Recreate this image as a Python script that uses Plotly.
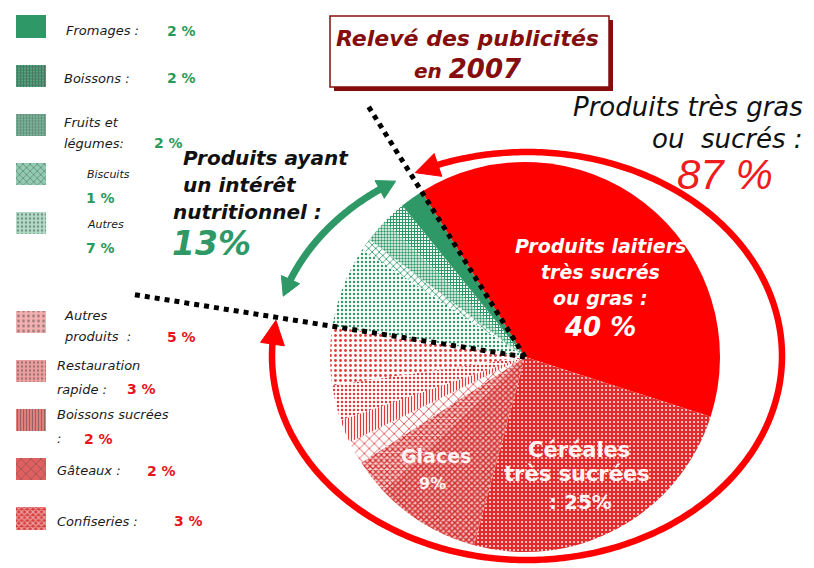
import numpy as np
import plotly.graph_objects as go

# page body has an 8px margin: the figure is sized so that it fills the 814x568 window
OFF = 8
W, H = 814 - OFF, 568 - OFF

# ---------------- data ----------------
categories = ["Produits laitiers", "Céréales", "Glaces", "Confiseries", "Gâteaux",
              "Boissons sucrées", "Restauration rapide", "Autres produits",
              "Autres", "Biscuits", "Fruits et légumes", "Boissons", "Fromages"]
values = [40, 25, 9, 3, 2, 2, 3, 5, 7, 1, 2, 2, 2]
groups = ["gras"] * 8 + ["nutri"] * 5
headline_groups = ["gras", "nutri"]
headline_values = [87, 13]
title_year = 2007

# legend rows, top to bottom ("gap" = spacer row)
legend_rows = ["Fromages", "Boissons", "Fruits et légumes", "Biscuits", "Autres", "gap",
               "Autres produits", "Restauration rapide", "Boissons sucrées", "Gâteaux", "Confiseries"]

# ---------------- styles ----------------
RED = "#ff0000"
GREEN = "#2e9966"
WHITE = "#ffffff"
DARKRED = "#860d0d"
FONT = "Liberation Sans, Arial, sans-serif"
FONT_W = "DejaVu Sans, Liberation Sans, sans-serif"

style = {
    "Produits laitiers": dict(color=RED, shape="", fg=RED, bg=RED, size=8, sol=0.3),
    "Céréales": dict(color="#e42a2a", shape=".", fg="#fbe3e3", bg="#e42a2a", size=4, sol=0.22),
    "Glaces": dict(color="#d84040", shape="x", fg="#d42a2a", bg="#eeb8b8", size=4, sol=0.6),
    "Confiseries": dict(color="#d84040", shape="x", fg="#d22a2a", bg="#f6d0d0", size=4, sol=0.5),
    "Gâteaux": dict(color="#e06060", shape="x", fg="#d83030", bg=WHITE, size=7, sol=0.2),
    "Boissons sucrées": dict(color="#e88080", shape="|", fg="#e03a3a", bg=WHITE, size=3, sol=0.4),
    "Restauration rapide": dict(color="#f0a0a0", shape=".", fg="#e03a3a", bg=WHITE, size=4, sol=0.3),
    "Autres produits": dict(color="#f4b0b0", shape=".", fg="#e03a3a", bg=WHITE, size=5, sol=0.25),
    "Autres": dict(color="#b0dcc8", shape=".", fg=GREEN, bg=WHITE, size=4, sol=0.3),
    "Biscuits": dict(color="#90ccb0", shape="x", fg=GREEN, bg=WHITE, size=5, sol=0.3),
    "Fruits et légumes": dict(color="#80c4a4", shape=".", fg=GREEN, bg=WHITE, size=3, sol=0.5),
    "Boissons": dict(color="#50aa80", shape="+", fg=GREEN, bg=WHITE, size=3, sol=0.6),
    "Fromages": dict(color=GREEN, shape="", fg=GREEN, bg=GREEN, size=8, sol=0.3),
}

def pattern_for(names):
    return dict(shape=[style[n]["shape"] for n in names],
                fgcolor=[style[n]["fg"] for n in names],
                bgcolor=[style[n]["bg"] for n in names],
                size=[style[n]["size"] for n in names],
                solidity=[style[n]["sol"] for n in names])

# ---------------- geometry (window pixel frame) ----------------
def fx(x):
    return (x - OFF) / W

def fy(y):
    return 1 - (y - OFF) / H

ROT = -32
CX, CY, R = 525, 357, 195
EX, EY, RX, RY = 527, 356, 255, 204   # decorative arrow ring

total = sum(values)
gras_sum = sum(v for v, g in zip(values, groups) if g == "gras")
a_top = ROT                              # clockwise from 12 o'clock
a_left = ROT + 360.0 * gras_sum / total

fig = go.Figure()

fig.add_trace(go.Pie(
    labels=categories, values=values, sort=False, direction="clockwise", rotation=ROT,
    domain=dict(x=[fx(CX - R), fx(CX + R)], y=[fy(CY + R), fy(CY - R)]),
    textinfo="none", hoverinfo="label+value", showlegend=False,
    marker=dict(colors=[style[n]["color"] for n in categories], line=dict(width=0),
                pattern=pattern_for(categories)),
))

# legend swatches
leg_items = [r for r in legend_rows if r != "gap"]
fig.add_trace(go.Bar(
    y=leg_items, x=[1] * len(leg_items), orientation="h", width=0.45,
    marker=dict(color=[style[n]["color"] for n in leg_items], line=dict(width=0),
                pattern=pattern_for(leg_items)),
    hoverinfo="skip", showlegend=False, xaxis="x", yaxis="y",
))

S = (518 - 26) / 10.0           # row pitch
top_px = 26 - S / 2             # top of first row
bot_px = 518 + S / 2            # bottom of last row
dom_top = max(top_px, OFF + 0.5)
range_top = -0.5 + (dom_top - top_px) / S
fig.update_layout(
    xaxis=dict(domain=[fx(16), fx(46)], range=[0, 1], visible=False, fixedrange=True),
    yaxis=dict(domain=[fy(bot_px), fy(dom_top)], type="category",
               categoryorder="array", categoryarray=legend_rows,
               range=[len(legend_rows) - 0.5, range_top], visible=False, fixedrange=True),
)

def slot_y(name):
    return top_px + (legend_rows.index(name) + 0.5) * S

# ---------------- helpers ----------------
def path_str(pts, close=False):
    s = "M " + " L ".join(f"{fx(x):.5f},{fy(y):.5f}" for x, y in pts)
    return s + (" Z" if close else "")

def ell(ts):
    t = np.radians(np.asarray(ts, dtype=float))
    return np.c_[EX + RX * np.sin(t), EY - RY * np.cos(t)]

def arrow_arc(t0, t1, color, width, L, Wd):
    pts = ell(np.linspace(t0, t1, 400))
    tip0, tip1 = pts[0], pts[-1]
    i0 = next(i for i, p in enumerate(pts) if np.hypot(*(p - tip0)) >= L)
    i1 = next(i for i in range(len(pts) - 1, -1, -1) if np.hypot(*(pts[i] - tip1)) >= L)
    shaft = pts[max(i0 - 2, 0):i1 + 3]
    fig.add_shape(type="path", path=path_str(shaft), xref="paper", yref="paper",
                  line=dict(color=color, width=width), fillcolor="rgba(0,0,0,0)")
    for tip, base in ((tip0, pts[i0]), (tip1, pts[i1])):
        d = tip - base
        d = d / np.hypot(*d)
        n = np.array([-d[1], d[0]])
        b = tip - d * L
        tri = [tip, b + n * Wd / 2, b - n * Wd / 2]
        fig.add_shape(type="path", path=path_str(tri, close=True), xref="paper", yref="paper",
                      line=dict(color=color, width=1), fillcolor=color)

def ann(text, x, y, size, color, anchor="center", family=FONT_W):
    fig.add_annotation(x=fx(x), y=fy(y), xref="paper", yref="paper", text=text, showarrow=False,
                       xanchor=anchor, yanchor="middle",
                       font=dict(family=family, size=size, color=color))

# ---------------- decorations ----------------
# red ring (87 %) going clockwise the long way, green double arrow (13 %) across the short way
arrow_arc(a_top + 6, a_left + 1, RED, 6.5, 24, 24)
arrow_arc(a_top + 1, a_left - 360 + 8, GREEN, 7, 18, 20)

# dotted separators
for ang, d in ((a_top, 300), (a_left, 395)):
    t = np.radians(ang)
    x1, y1 = CX + d * np.sin(t), CY - d * np.cos(t)
    fig.add_shape(type="line", xref="paper", yref="paper",
                  x0=fx(CX), y0=fy(CY), x1=fx(x1), y1=fy(y1),
                  line=dict(color="black", width=5, dash="dot"))

# title box with shadow
bx0, by0, bx1, by1 = 330, 16, 609, 87
fig.add_shape(type="rect", xref="paper", yref="paper", x0=fx(bx0 + 4), x1=fx(bx1 + 4),
              y0=fy(by1 + 4), y1=fy(by0 + 4), fillcolor=DARKRED, line=dict(width=0))
fig.add_shape(type="rect", xref="paper", yref="paper", x0=fx(bx0), x1=fx(bx1),
              y0=fy(by1), y1=fy(by0), fillcolor=WHITE, line=dict(color=DARKRED, width=1.5))

# ---------------- texts ----------------
val = dict(zip(categories, values))
head = dict(zip(headline_groups, headline_values))

ann("<b><i>Relevé des publicités</i></b>", 468, 38, 22, DARKRED)
ann(f"<b><i>en <span style='font-size:26px'>{title_year}</span></i></b>", 468, 69, 20, DARKRED)

ann("<i>Produits très gras</i>", 688, 107, 26, "#111111")
ann("<i>ou  sucrés :</i>", 727, 139, 26, "#111111")
ann(f"<i>{head['gras']} %</i>", 725, 174, 42, "#ee1c1c", family=FONT)

ann("<b><i>Produits ayant</i></b>", 266, 158, 20, "#111111")
ann("<b><i>un intérêt</i></b>", 240, 185, 20, "#111111")
ann("<b><i>nutritionnel :</i></b>", 247, 212, 20, "#111111")
ann(f"<b><i>{head['nutri']}%</i></b>", 211, 243, 33, GREEN)

ann("<b><i>Produits laitiers</i></b>", 600, 246, 19, WHITE)
ann("<b><i>très sucrés</i></b>", 600, 272, 19, WHITE)
ann("<b><i>ou gras :</i></b>", 600, 298, 19, WHITE)
ann(f"<b><i>{val['Produits laitiers']} %</i></b>", 600, 327, 26, WHITE)

ann("<b>Céréales</b>", 579, 450, 21, "#fff2f2")
ann("<b>très sucrées</b>", 577, 474, 21, "#fff2f2")
ann(f"<b>: {val['Céréales']}%</b>", 580, 502, 20, "#fff2f2")

ann("<b>Glaces</b>", 436, 456, 19, "#fff2f2")
ann(f"<b>{val['Glaces']}%</b>", 432, 483, 16, "#fff2f2")

# legend labels: (lines [(text, x, dy, anchor)], pct (x, dy, anchor))
leg_text = {
    "Fromages": ([("Fromages :", 64, 5, "left")], (165, 5, "left")),
    "Boissons": ([("Boissons :", 62, 3, "left")], (165, 3, "left")),
    "Fruits et légumes": ([("Fruits et", 62, -2, "left"), ("légumes:", 62, 19, "left")], (152, 19, "left")),
    "Biscuits": ([("<span style='font-size:11px'>Biscuits</span>", 108, 1, "center")], (100, 24, "center")),
    "Autres": ([("<span style='font-size:11px'>Autres</span>", 105, 2, "center")], (100, 25, "center")),
    "Autres produits": ([("Autres", 62, -6, "left"), ("produits  :", 62, 15, "left")], (165, 16, "left")),
    "Restauration rapide": ([("Restauration", 55, -5, "left"), ("rapide :", 55, 19, "left")], (125, 19, "left")),
    "Boissons sucrées": ([("Boissons sucrées", 55, -5, "left"), (":", 55, 19, "left")], (82, 19, "left")),
    "Gâteaux": ([("Gâteaux :", 55, 2, "left")], (145, 2, "left")),
    "Confiseries": ([("Confiseries :", 55, 3, "left")], (172, 3, "left")),
}
for name in leg_items:
    lines, (px, pdy, pa) = leg_text[name]
    yc = slot_y(name)
    g = groups[categories.index(name)]
    pcol = "#2a9a5c" if g == "nutri" else "#e8141c"
    for txt, x, dy, a in lines:
        ann(f"<i>{txt}</i>", x, yc + dy, 13, "#1a1a1a", anchor=a)
    ann(f"<b>{val[name]} %</b>", px, yc + pdy, 14, pcol, anchor=pa)

fig.update_layout(
    width=W, height=H, margin=dict(l=0, r=0, t=0, b=0),
    paper_bgcolor=WHITE, plot_bgcolor="rgba(0,0,0,0)",
    showlegend=False, bargap=0,
)

fig.write_html("out.html")
